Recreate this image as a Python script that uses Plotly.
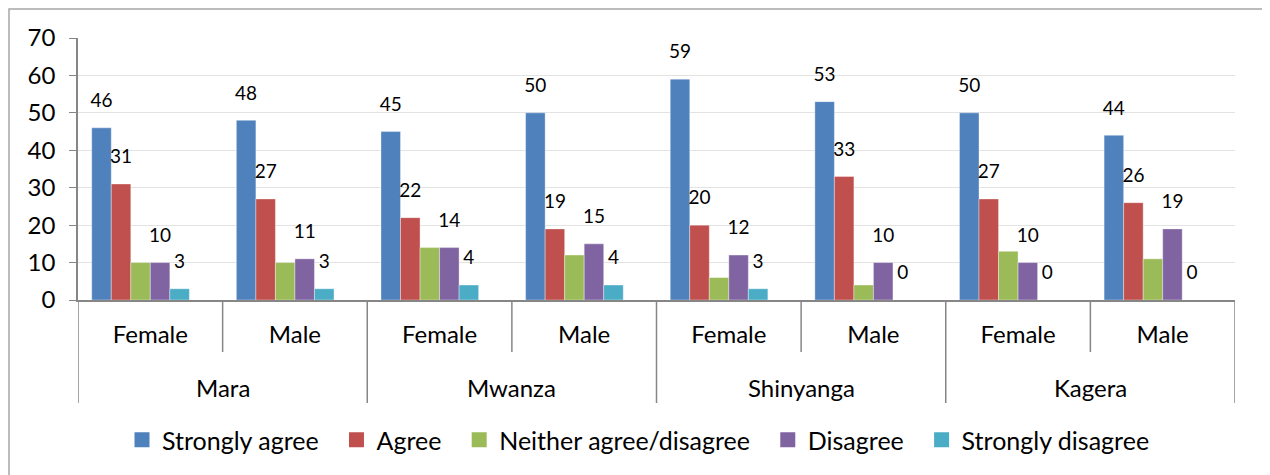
import plotly.graph_objects as go

regions = ["Mara", "Mwanza", "Shinyanga", "Kagera"]
genders = ["Female", "Male"]
series_names = ["Strongly agree", "Agree", "Neither agree/disagree", "Disagree", "Strongly disagree"]
strongly_agree = [46, 48, 45, 50, 59, 53, 50, 44]
agree = [31, 27, 22, 19, 20, 33, 27, 26]
neither = [10, 10, 14, 12, 6, 4, 13, 11]
disagree = [10, 11, 14, 15, 12, 10, 10, 19]
strongly_disagree = [3, 3, 4, 4, 3, 0, 0, 0]
show_labels = [True, True, False, True, True]
colors = ["#4F81BD", "#C0504D", "#9BBB59", "#8064A2", "#4BACC6"]
y_ticks = [0, 10, 20, 30, 40, 50, 60, 70]

values = [strongly_agree, agree, neither, disagree, strongly_disagree]
x_inner = [g for r in regions for g in genders]
n_cat = len(x_inner)
idx = list(range(n_cat))

# page body has an 8px margin, so the figure is 8px smaller than the window
W, H = 1262, 467
ML, MR, MT, MB = 70, 35, 30, 175
PH = H - MT - MB
PW = W - ML - MR
AX = "#868686"

FONT = "Lato"
n_slots = 6  # one empty slot per cluster, as in the original
bw = 0.135
fig = go.Figure()
for i, (name, vals, col) in enumerate(zip(series_names, values, colors)):
    off = -n_slots / 2 * bw + i * bw
    fig.add_trace(go.Bar(
        x=idx, y=vals, name=name, showlegend=False,
        marker=dict(color=col, line=dict(color="rgba(255,255,255,0.6)", width=0.6)),
        width=bw, offset=off, hoverinfo="y",
    ))
    if show_labels[i]:
        fig.add_trace(go.Scatter(
            x=[k + off + bw / 2 for k in idx], y=vals,
            mode="text+markers", text=[str(v) for v in vals],
            textposition="top center",
            textfont=dict(family=FONT, size=19, color="#000000"),
            marker=dict(size=24, color="rgba(0,0,0,0)"),
            showlegend=False, hoverinfo="skip", cliponaxis=False,
        ))
# legend entries (square keys)
for name, col in zip(series_names, colors):
    fig.add_trace(go.Scatter(
        x=[None], y=[None], mode="markers", name=name + "\u00a0\u00a0",
        marker=dict(symbol="square", size=15, color=col), showlegend=True, hoverinfo="skip",
    ))

shapes = []
ng = len(genders)
# boundaries between gender categories inside a region
for r in range(len(regions)):
    for g in range(1, ng):
        xb = r * ng + g - 0.5
        shapes.append(dict(type="line", xref="x", yref="paper", x0=xb, x1=xb,
                           y0=0, y1=-52 / PH, line=dict(color=AX, width=1.5)))
# region dividers
for r in range(len(regions) + 1):
    xb = r * ng - 0.5
    shapes.append(dict(type="line", xref="x", yref="paper", x0=xb, x1=xb,
                       y0=0, y1=-103 / PH, line=dict(color=AX, width=1.5)))
# outer chart border
shapes.append(dict(type="rect", xref="paper", yref="paper",
                   x0=(1 - ML) / PW, x1=(1255 - ML) / PW,
                   y0=(MT + PH - 475) / PH, y1=(MT + PH - 1) / PH,
                   line=dict(color="#A6A6A6", width=1.5), fillcolor="rgba(0,0,0,0)", layer="below"))

annotations = []
for r, reg in enumerate(regions):
    annotations.append(dict(x=r * ng + (ng - 1) / 2, y=-87 / PH,
                            xref="x", yref="paper", text=reg, showarrow=False,
                            xanchor="center", yanchor="middle",
                            font=dict(family=FONT, size=24, color="#000000")))

fig.update_layout(
    width=W, height=H,
    margin=dict(l=ML, r=MR, t=MT, b=MB, autoexpand=False),
    paper_bgcolor="white", plot_bgcolor="white",
    font=dict(family=FONT, size=24, color="#000000"),
    barmode="overlay",
    showlegend=True,
    legend=dict(orientation="h", x=0.5 - 12 / PW, xanchor="center", y=-140 / PH, yanchor="middle",
                font=dict(family=FONT, size=25), itemwidth=30, tracegroupgap=0),
    xaxis=dict(range=[-0.5, n_cat - 0.5], tickmode="array", tickvals=idx, ticktext=x_inner,
               showline=True, linecolor=AX, linewidth=1.5, ticks="", automargin=False,
               ticklabelstandoff=12, tickfont=dict(family=FONT, size=24),
               showgrid=False, zeroline=False),
    yaxis=dict(range=[0, 70], tickmode="array", tickvals=y_ticks,
               showgrid=True, gridcolor="#E3E3E3", gridwidth=1,
               showline=True, linecolor=AX, linewidth=1.5, automargin=False,
               ticks="outside", ticklen=7, tickcolor=AX,
               tickfont=dict(family=FONT, size=24), ticklabelstandoff=9, zeroline=False),
    shapes=shapes,
    annotations=annotations,
)
fig.write_html("out.html")
